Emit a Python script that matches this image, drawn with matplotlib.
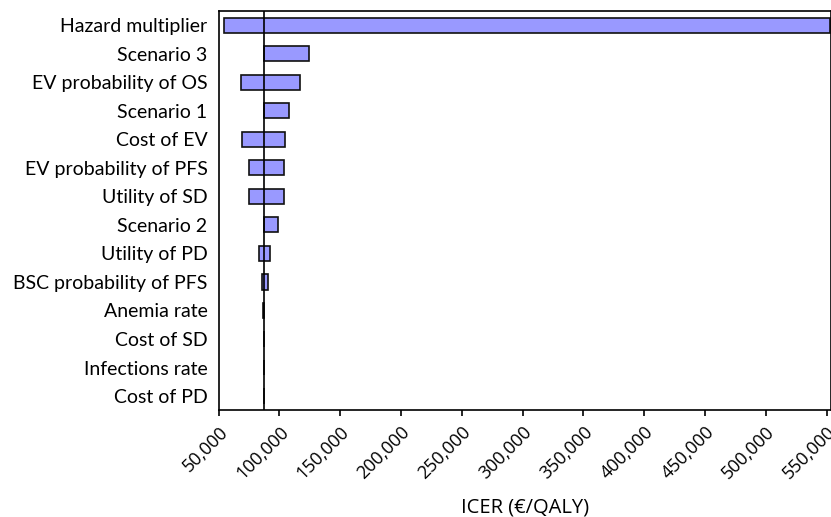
import matplotlib
matplotlib.use("Agg")
import matplotlib.pyplot as plt
from matplotlib.ticker import FuncFormatter

# one-way sensitivity results, ICER in EUR/QALY
base_icer = 87540
params = ["Hazard multiplier", "Scenario 3", "EV probability of OS", "Scenario 1",
          "Cost of EV", "EV probability of PFS", "Utility of SD", "Scenario 2",
          "Utility of PD", "BSC probability of PFS", "Anemia rate", "Cost of SD",
          "Infections rate", "Cost of PD"]
low = [54360, 87540, 68610, 87540, 69430, 74950, 74950, 87540,
       82930, 85400, 86230, 87540, 87540, 87540]
high = [553000, 124350, 117180, 108130, 104590, 103770, 103770, 99070,
        92240, 90590, 87540, 87540, 87540, 87540]
xticks = list(range(50000, 550001, 50000))

fig = plt.figure(figsize=(8.31, 5.17), dpi=100)
ax = fig.add_axes([0.2632, 0.2064, 0.7368, 0.7723])

ypos = list(range(len(params)))
widths = [h - l for l, h in zip(low, high)]
ax.barh(ypos, widths, left=low, height=0.53, color="#9999ff",
        edgecolor="#111111", linewidth=1.2, zorder=2)
ax.axvline(base_icer, color="black", linewidth=1.2, zorder=3)

ax.set_ylim(len(params) - 0.5, -0.5)
ax.set_xlim(50000, 553700)
ax.set_yticks(ypos)
ax.set_yticklabels(params, fontfamily="Lato", fontsize=14)
ax.tick_params(axis="y", length=0, pad=8)

ax.set_xticks(xticks)
ax.xaxis.set_major_formatter(FuncFormatter(lambda v, p: f"{int(v):,}"))
for lab in ax.get_xticklabels():
    lab.set_rotation(45)
    lab.set_ha("right")
    lab.set_va("top")
    lab.set_rotation_mode("anchor")
    lab.set_fontfamily("Open Sans")
    lab.set_fontsize(13)
ax.tick_params(axis="x", length=4, width=1.2, pad=5)
ax.set_xlabel("ICER (€/QALY)", fontfamily="Open Sans", fontsize=14.5, labelpad=11)

for s in ax.spines.values():
    s.set_linewidth(1.2)

fig.savefig("out.png", dpi=100)
